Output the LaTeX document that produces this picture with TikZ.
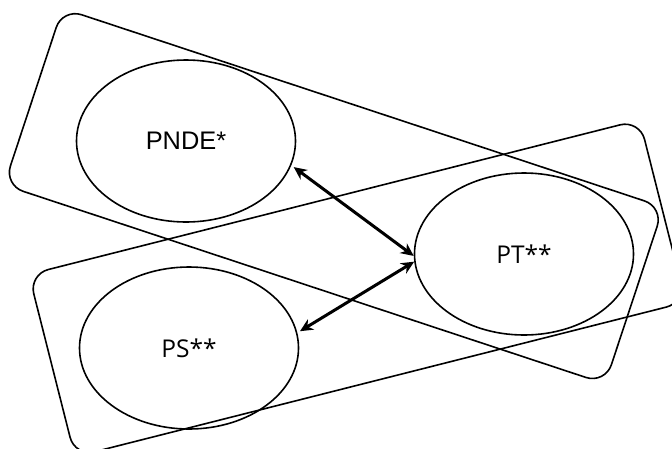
\documentclass[tikz,border=0pt]{standalone}
\usepackage{fontspec}
\setmainfont{Liberation Sans}
\newfontfamily\calfont{Open Sans}
\usetikzlibrary{arrows.meta,shapes.geometric}
\begin{document}
\begin{tikzpicture}[x=1pt,y=-1pt,
  groupbox/.style={draw,line width=1.6pt,rounded corners=20pt,rectangle,inner sep=0pt},
  setell/.style={draw,line width=1.6pt,ellipse,minimum width=219pt,minimum height=162pt,inner sep=0pt},
  link/.style={line width=3pt,{Stealth[length=13pt,width=12pt]}-{Stealth[length=13pt,width=12pt]}}]
\useasboundingbox (0,0) rectangle (672,448);
\clip (0,0) rectangle (672,448);
\node[groupbox,minimum width=633pt,minimum height=186pt,rotate=-18.3] (box1) at (333.8,196.1) {};
\node[groupbox,minimum width=630pt,minimum height=188pt,rotate=14.2] (box2) at (357.3,288.3) {};
\node[setell] (pnde) at (186,141) {\fontsize{25.4}{30}\selectfont PNDE*};
\node[setell] (pt) at (524,254) {\calfont\fontsize{24.5}{30}\selectfont PT**};
\node[setell] (ps) at (189,348) {\calfont\fontsize{24.5}{30}\selectfont PS**};
\draw[link,shorten <=3pt] (pnde.-13) -- (pt.181);
\draw[link,shorten <=3pt] (ps.8) -- (pt.184);
\end{tikzpicture}
\end{document}
